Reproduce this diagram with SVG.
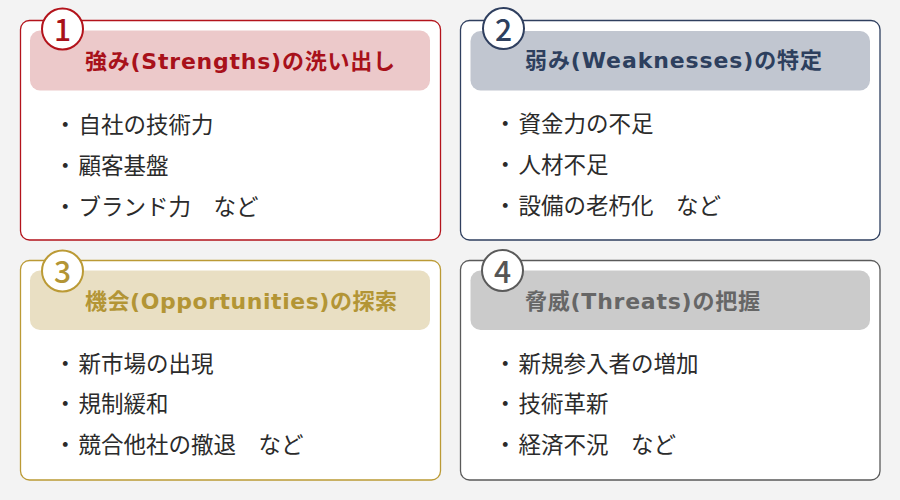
<svg xmlns="http://www.w3.org/2000/svg" width="900" height="500" viewBox="0 0 900 500">
<style>
.box{fill:#ffffff;stroke-width:1.3}
.badge{fill:#ffffff;stroke-width:2}
.num{font-family:"Noto Sans CJK JP","Noto Sans",sans-serif;font-size:30px;font-weight:500;text-anchor:middle}
.head{font-family:"DejaVu Sans","Noto Sans CJK JP",sans-serif;font-size:22px;font-weight:bold}
.item{font-family:"Noto Sans CJK JP",sans-serif;font-size:22.5px;fill:#2b2b2b}
.red .box,.red .badge{stroke:#b3131b}
.red .band{fill:#ecc9ca}
.red .num,.red .head{fill:#a8111a}
.navy .box,.navy .badge{stroke:#2f3f5f}
.navy .band{fill:#c1c6d0}
.navy .num,.navy .head{fill:#2d3f5e}
.gold .box,.gold .badge{stroke:#bb9a35}
.gold .band{fill:#e9dfc3}
.gold .num,.gold .head{fill:#b39535}
.gray .box,.gray .badge{stroke:#5a5a5a}
.gray .band{fill:#cbcbcb}
.gray .num{fill:#555555}
.gray .head{fill:#666666}
</style>
<rect x="0" y="0" width="900" height="500" fill="#f3f3f3"/>

<g id="strengths" class="red">
<rect class="box" x="20.5" y="20.5" width="420" height="219.5" rx="9"/>
<rect class="band" x="30" y="30.5" width="400" height="60" rx="10"/>
<circle class="badge" cx="62.5" cy="29" r="20.5"/>
<text class="num" x="62.5" y="41">1</text>
<text class="head" x="85" y="68.5" textLength="310" lengthAdjust="spacing">強み(Strengths)の洗い出し</text>
<text class="item" x="54" y="132.5">・<tspan dx="2">自社の技術力</tspan></text>
<text class="item" x="54" y="173.5">・<tspan dx="2">顧客基盤</tspan></text>
<text class="item" x="54" y="214.5">・<tspan dx="2">ブランド力　など</tspan></text>
</g>

<g id="weaknesses" class="navy">
<rect class="box" x="460.5" y="20.5" width="419.5" height="219.5" rx="9"/>
<rect class="band" x="470.5" y="31" width="399.5" height="59.5" rx="10"/>
<circle class="badge" cx="503.5" cy="28.5" r="20.5"/>
<text class="num" x="503.5" y="40.5">2</text>
<text class="head" x="525" y="67.5" textLength="297" lengthAdjust="spacing">弱み(Weaknesses)の特定</text>
<text class="item" x="494" y="131.5">・<tspan dx="2">資金力の不足</tspan></text>
<text class="item" x="494" y="173">・<tspan dx="2">人材不足</tspan></text>
<text class="item" x="494" y="213.5">・<tspan dx="2">設備の老朽化　など</tspan></text>
</g>

<g id="opportunities" class="gold">
<rect class="box" x="20.5" y="260.5" width="420" height="219.5" rx="9"/>
<rect class="band" x="30" y="270.5" width="400" height="59.5" rx="10"/>
<circle class="badge" cx="62.5" cy="271" r="20.5"/>
<text class="num" x="62.5" y="283">3</text>
<text class="head" x="85" y="309" textLength="312" lengthAdjust="spacing">機会(Opportunities)の探索</text>
<text class="item" x="54" y="371.5">・<tspan dx="2">新市場の出現</tspan></text>
<text class="item" x="54" y="412">・<tspan dx="2">規制緩和</tspan></text>
<text class="item" x="54" y="452.5">・<tspan dx="2">競合他社の撤退　など</tspan></text>
</g>

<g id="threats" class="gray">
<rect class="box" x="460.5" y="260.5" width="419.5" height="219.5" rx="9"/>
<rect class="band" x="470.5" y="270.5" width="399.5" height="59.5" rx="10"/>
<circle class="badge" cx="502.5" cy="270.5" r="20.5"/>
<text class="num" x="502.5" y="282.5">4</text>
<text class="head" x="525" y="309" textLength="235" lengthAdjust="spacing">脅威(Threats)の把握</text>
<text class="item" x="494" y="371.5">・<tspan dx="2">新規参入者の増加</tspan></text>
<text class="item" x="494" y="412">・<tspan dx="2">技術革新</tspan></text>
<text class="item" x="494" y="452.5">・<tspan dx="2">経済不況　など</tspan></text>
</g>
</svg>
